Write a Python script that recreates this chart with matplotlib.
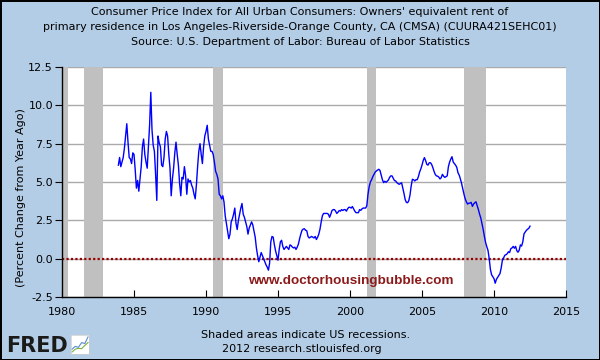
import numpy as np
import matplotlib.pyplot as plt

# ------------------------------------------------------
# Data
# ------------------------------------------------------

# monthly % change from year ago, first value = Dec 1983
start_year = 1983 + 11 / 12
oer_yoy = [
    6.1,
    6.6, 6.0, 6.3, 6.6, 7.2, 8.0, 8.8, 7.6, 6.6, 6.5, 6.2, 6.9,          # 1984
    6.8, 5.8, 4.6, 5.1, 4.4, 5.2, 6.0, 7.3, 7.8, 6.8, 6.3, 5.9,          # 1985
    7.3, 8.7, 10.85, 8.4, 7.4, 7.0, 5.5, 3.8, 8.0, 7.55, 7.3, 6.1,       # 1986
    6.0, 6.6, 7.8, 8.3, 8.0, 6.8, 5.9, 4.1, 5.2, 5.9, 6.9, 7.6,          # 1987
    6.8, 6.1, 4.9, 4.1, 5.3, 5.2, 6.0, 5.4, 4.2, 5.2, 5.0, 5.1,          # 1988
    4.8, 4.6, 4.2, 3.9, 4.8, 6.0, 7.0, 7.5, 6.8, 6.2, 7.3, 8.0,          # 1989
    8.3, 8.7, 7.8, 7.4, 7.0, 7.0, 6.8, 6.3, 5.7, 5.5, 5.2, 4.2,          # 1990
    4.1, 3.9, 4.1, 3.7, 2.8, 2.3, 1.8, 1.3, 1.6, 2.4, 2.6, 2.9,          # 1991
    3.3, 2.3, 1.9, 2.5, 2.9, 3.3, 3.6, 2.9, 2.7, 2.4, 2.1, 1.6,          # 1992
    2.0, 2.2, 2.4, 2.2, 1.8, 1.4, 0.7, 0.2, -0.2, 0.1, 0.4, 0.2,         # 1993
    0.0, -0.2, -0.4, -0.55, -0.75, -0.3, 1.1, 1.45, 1.4, 0.9, 0.5, 0.2,  # 1994
    -0.1, 0.6, 1.1, 1.2, 0.8, 0.6, 0.7, 0.8, 0.7, 0.6, 0.9, 0.85,        # 1995
    0.75, 0.7, 0.75, 0.6, 0.75, 0.95, 1.3, 1.6, 1.85, 1.93, 1.95, 1.85,  # 1996
    1.82, 1.45, 1.35, 1.4, 1.45, 1.4, 1.35, 1.45, 1.25, 1.4, 1.6, 1.93,  # 1997
    2.4, 2.8, 2.95, 2.95, 2.95, 2.95, 2.9, 2.7, 2.9, 3.14, 3.2, 3.2,     # 1998
    3.1, 2.95, 3.03, 3.14, 3.1, 3.2, 3.14, 3.2, 3.2, 3.1, 3.25, 3.35,    # 1999
    3.35, 3.3, 3.4, 3.25, 3.1, 3.0, 3.0, 3.0, 3.2, 3.15, 3.25, 3.3,      # 2000
    3.3, 3.3, 3.45, 4.2, 4.7, 5.0, 5.15, 5.35, 5.5, 5.65, 5.72, 5.78,    # 2001
    5.83, 5.75, 5.45, 5.15, 4.96, 5.05, 4.98, 5.05, 5.13, 5.3, 5.4, 5.4, # 2002
    5.25, 5.1, 5.07, 4.96, 4.9, 4.85, 4.9, 4.95, 4.6, 4.25, 3.85, 3.67,  # 2003
    3.65, 3.78, 4.15, 4.75, 5.18, 5.15, 5.07, 5.15, 5.15, 5.35, 5.65, 5.85,  # 2004
    6.1, 6.4, 6.59, 6.4, 6.15, 6.1, 6.25, 6.26, 6.15, 5.95, 5.7, 5.5,    # 2005
    5.4, 5.38, 5.32, 5.2, 5.28, 5.5, 5.38, 5.3, 5.35, 5.4, 6.0, 6.3,     # 2006
    6.5, 6.65, 6.3, 6.2, 6.1, 5.95, 5.6, 5.45, 5.2, 4.9, 4.55, 4.2,      # 2007
    3.9, 3.7, 3.56, 3.62, 3.62, 3.67, 3.41, 3.56, 3.65, 3.71, 3.45, 3.2, # 2008
    2.9, 2.65, 2.27, 1.9, 1.45, 1.05, 0.78, 0.54, 0.0, -0.7, -1.05, -1.18,   # 2009
    -1.3, -1.6, -1.35, -1.22, -1.08, -0.97, -0.6, -0.1, 0.05, 0.22, 0.26, 0.32,  # 2010
    0.45, 0.4, 0.65, 0.7, 0.8, 0.68, 0.8, 0.52, 0.42, 0.55, 0.9, 0.82,   # 2011
    1.1, 1.62, 1.73, 1.85, 1.92, 1.98, 2.12,                             # 2012
]

# US recessions (decimal years)
recession_start = [1980.0, 1981.5, 1990.5, 2001.17, 2007.92]
recession_end = [1980.42, 1982.83, 1991.17, 2001.83, 2009.42]

x_ticks = [1980, 1985, 1990, 1995, 2000, 2005, 2010, 2015]
y_ticks = [-2.5, 0.0, 2.5, 5.0, 7.5, 10.0, 12.5]

title_lines = [
    "Consumer Price Index for All Urban Consumers: Owners' equivalent rent of",
    "primary residence in Los Angeles-Riverside-Orange County, CA (CMSA) (CUURA421SEHC01)",
    "Source: U.S. Department of Labor: Bureau of Labor Statistics",
]
note_lines = [
    "Shaded areas indicate US recessions.",
    "2012 research.stlouisfed.org",
]

# little chart icon next to the FRED logo
icon_x = [0, 1, 2, 3, 4, 5]
icon_blue = [0.25, 0.4, 0.35, 0.6, 0.55, 0.9]
icon_green = [0.1, 0.25, 0.3, 0.28, 0.45, 0.6]

years = start_year + np.arange(len(oer_yoy)) / 12

# ------------------------------------------------------
# Figure
# ------------------------------------------------------

W, H = 600, 360
bg = "#b4cde6"

fig = plt.figure(figsize=(6, 3.6), dpi=100, facecolor=bg,
                 edgecolor="black", linewidth=2)
ax = fig.add_axes([62 / W, 63 / H, 504 / W, 230 / H])
ax.set_facecolor("white")
ax.set_axisbelow(True)

for s, e in zip(recession_start, recession_end):
    ax.axvspan(s, e, color="#c0c0c0", lw=0, zorder=1)

ax.yaxis.grid(True, color="#aaaaaa", lw=1)
ax.axhline(0, color="#990000", ls=(0, (1, 1)), lw=1.6, zorder=2)
ax.plot(years, oer_yoy, color="#0000ff", lw=1.0, zorder=3)

ax.set_xlim(1980, 2015)
ax.set_ylim(-2.5, 12.5)
ax.set_xticks(x_ticks)
ax.set_yticks(y_ticks)
ax.set_yticklabels([f"{v:.1f}" for v in y_ticks])

for side in ["top", "right"]:
    ax.spines[side].set_visible(False)
for side in ["left", "bottom"]:
    ax.spines[side].set_color("black")
    ax.spines[side].set_linewidth(1)

ax.tick_params(axis="x", direction="in", length=5, pad=7, labelsize=8)
ax.tick_params(axis="y", direction="out", length=5, pad=1.5, labelsize=8)

# watermark
fig.text(351 / W, 1 - 281 / H, "www.doctorhousingbubble.com",
         color="#8b1a1a", fontsize=9.7, fontweight="bold",
         family="Liberation Sans", ha="center", va="center")

# ------------------------------------------------------
# Texts
# ------------------------------------------------------

for k, line in enumerate(title_lines):
    fig.text(0.5, 1 - (12 + 15 * k) / H, line, ha="center", va="center",
             fontsize=8)

fig.text(21 / W, 1 - 198 / H, "(Percent Change from Year Ago)",
         rotation=90, ha="center", va="center", fontsize=8)

fig.text(306 / W, 1 - 335 / H, note_lines[0], ha="center", va="center",
         fontsize=8)
fig.text(302 / W, 1 - 349 / H, note_lines[1], ha="center", va="center",
         fontsize=8)

# FRED logo
fig.text(6 / W, 1 - 346 / H, "FRED", fontsize=15, fontweight="heavy",
         color="#1a1a1a", ha="left", va="center")
icon = fig.add_axes([71 / W, 6 / H, 18 / W, 19 / H])
icon.set_facecolor("white")
icon.plot(icon_x, icon_green, color="#7cb342", lw=0.8)
icon.plot(icon_x, icon_blue, color="#5b8bd0", lw=0.8)
icon.set_xlim(-0.3, 5.3)
icon.set_ylim(0, 1)
icon.set_xticks([])
icon.set_yticks([])
for sp in icon.spines.values():
    sp.set_color("#cccccc")
    sp.set_linewidth(0.5)

fig.savefig("out.png", dpi=100, facecolor=fig.get_facecolor(),
            edgecolor=fig.get_edgecolor())
